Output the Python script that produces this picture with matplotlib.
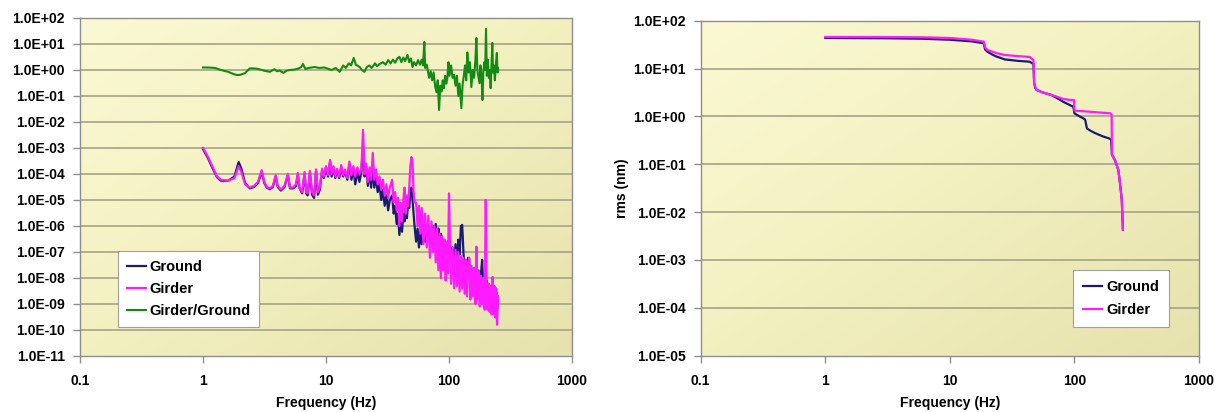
import numpy as np
import matplotlib
matplotlib.use("Agg")
import matplotlib.pyplot as plt
from matplotlib.ticker import FixedLocator, FuncFormatter
from matplotlib.colors import LinearSegmentedColormap

plt.rcParams['font.family'] = ['Liberation Sans', 'DejaVu Sans']
plt.rcParams['font.weight'] = 'bold'

# ---------------- data: left panel (PSD) ----------------
girder_f = [1.0, 1.1, 1.2, 1.3, 1.4, 1.6, 1.8, 1.95, 2.05, 2.2, 2.4, 2.6, 2.8, 3.0, 3.15, 3.3, 3.5, 3.7, 3.9, 4.05,
            4.3, 4.6, 4.9, 5.1, 5.4, 5.7, 5.9, 6.1, 6.4, 6.7, 6.9, 7.1, 7.4, 7.7, 8.0, 8.3, 8.6, 8.9, 9.3, 9.6,
            10.0, 10.4, 10.8, 11.1, 11.5, 11.9, 12.3, 12.8, 13.3, 13.8, 14.3, 14.9, 15.5, 16.1, 16.7, 17.3, 18.0,
            18.7, 19.4, 20.0, 20.6, 21.2, 21.9, 22.6, 23.3, 24.0, 24.7, 25.5, 26.3, 27.2, 28.1, 29.0, 30.0, 31.0,
            32.0, 33.0, 34.5, 35.5, 36.5, 37.5, 38.5, 39.5, 40.5, 41.5, 42.5, 43.5, 44.5, 45.5, 46.5, 47.5, 48.5,
            49.5, 50.5, 51.5, 52.5, 54, 55.5, 57, 58.5, 60, 62, 64, 66, 68, 70, 72, 74, 76, 78, 80, 82, 84, 86, 88,
            90, 92, 94, 96, 98, 100, 102, 104, 107, 110, 113, 116, 119, 122, 125, 128, 131, 134, 137, 140, 143,
            146, 149, 152, 156, 160, 164, 167, 170, 174, 178, 182, 186, 190, 195, 199, 202, 206, 210, 214, 218,
            222, 226, 230, 234, 238, 242, 246, 250]
girder_psd = [1.0e-3, 4.5e-4, 1.8e-4, 8e-5, 6e-5, 5.5e-5, 7e-5, 2.0e-4, 1.2e-4, 4e-5, 3.0e-5, 3.5e-5, 5e-5, 1.4e-4,
              5e-5, 3.2e-5, 2.8e-5, 3.5e-5, 9e-5, 3.5e-5, 2.5e-5, 3.5e-5, 1.0e-4, 3e-5, 3e-5, 4e-5, 1.1e-4, 3e-5,
              2e-5, 1.2e-4, 2e-5, 1.8e-5, 1.3e-4, 2e-5, 1.5e-5, 1.5e-4, 2e-5, 3e-5, 1.6e-4, 8e-5,
              2.0e-4, 9e-5, 3.5e-4, 1.0e-4, 2.0e-4, 8e-5, 1.6e-4, 8e-5, 2.2e-4, 9e-5, 1.5e-4, 7e-5, 3e-4, 9e-5,
              2.0e-4, 8e-5, 1.8e-4, 1.0e-4, 1.5e-4, 5.0e-3, 1.0e-4, 2.5e-4, 5e-5, 1.8e-4, 6e-5, 6.5e-4, 6e-5,
              1.5e-4, 4e-5, 8e-5, 2.5e-5, 6e-5, 1.5e-5, 4e-5, 1.2e-5, 3e-5, 6e-5, 8e-6, 2e-5, 4e-6, 1.2e-5, 1e-6,
              8e-6, 1.5e-6, 1e-5, 3e-5, 3e-6, 1.5e-5, 6e-6, 3e-5, 2e-4, 4.5e-4, 3e-4, 2e-5, 8e-6, 8e-6, 1e-6,
              6e-6, 5e-7, 5e-6, 2e-7, 3e-6, 1.5e-7, 2.5e-6, 6e-8, 1.5e-6, 1e-7, 1e-6, 4e-8, 8e-7, 2e-8, 5e-7,
              1e-8, 4e-7, 2e-8, 3e-7, 8e-9, 2.5e-7, 1.5e-8, 1.8e-5, 1.5e-7, 6e-9, 1.5e-7, 4e-9, 1.2e-7, 5e-9,
              1e-7, 3e-9, 7e-8, 4e-9, 6e-8, 2.5e-9, 5e-8, 2e-9, 4e-8, 6e-8, 1.5e-9, 3e-8, 2e-9, 2.5e-8, 1e-9,
              1.6e-7, 1.5e-9, 2e-8, 8e-10, 1.2e-8, 1e-9, 1e-8, 6e-10, 1e-5, 8e-9, 6e-10, 6e-9, 5e-10, 5e-9,
              4e-10, 1.1e-8, 4e-10, 5e-9, 3e-10, 4e-9, 1.6e-10, 2e-9]

ground_f = girder_f
ground_psd = [9e-4, 4e-4, 1.6e-4, 7.5e-5, 5.5e-5, 5.5e-5, 8e-5, 2.9e-4, 1.6e-4, 4.5e-5, 2.8e-5, 3.2e-5, 4.5e-5,
              1.2e-4, 4.5e-5, 3e-5, 2.6e-5, 3.2e-5, 8e-5, 3.2e-5, 2.3e-5, 3.2e-5, 9e-5, 2.8e-5, 2.8e-5, 3.5e-5,
              9e-5, 2.8e-5, 1.8e-5, 1e-4, 1.8e-5, 1.5e-5, 1.1e-4, 1.6e-5, 1.2e-5, 1.3e-4, 1.6e-5, 2.5e-5, 1.4e-4,
              7e-5, 1.8e-4, 8e-5, 3e-4, 8e-5, 1.8e-4, 7e-5, 1.4e-4, 7e-5, 1.8e-4, 8e-5, 1.3e-4, 6e-5, 2.5e-4,
              6e-5, 1.5e-4, 4e-5, 1.2e-4, 5e-5, 1.2e-4, 1.5e-3, 8e-5, 2e-4, 3.5e-5, 1.2e-4, 3e-5, 2e-4, 3e-5,
              8e-5, 2e-5, 4e-5, 1e-5, 2.5e-5, 6e-6, 1.5e-5, 4e-6, 1e-5, 1.5e-5, 3e-6, 6e-6, 1.2e-6, 3e-6, 4.5e-7,
              2e-6, 6e-7, 3e-6, 1.5e-6, 5e-6, 2e-6, 8e-6, 5e-6, 2e-5, 3e-5, 1e-5, 3e-6, 1e-6, 2.5e-7, 8e-7,
              1.5e-7, 6e-7, 2e-7, 8e-7, 2.5e-7, 1e-6, 3e-7, 8e-7, 2e-7, 1e-6, 3e-7, 1.2e-6, 2e-7, 8e-7, 1e-7,
              5e-7, 5e-8, 3e-7, 4e-8, 2e-7, 3e-8, 1.5e-7, 6e-8, 1.5e-7, 2e-8, 1.5e-7, 2e-8, 2e-7, 3e-8, 3e-7,
              8e-8, 1e-6, 1.1e-6, 1e-7, 2e-8, 5e-8, 1e-8, 6e-8, 5e-8, 5e-9, 2.5e-8, 4e-9, 2e-8, 3e-9, 1.5e-8,
              2e-9, 1.2e-8, 1.5e-9, 1.5e-8, 5e-8, 3e-9, 8e-9, 2e-9, 8e-9, 1.5e-9, 6e-9, 1.5e-9, 5e-9, 1e-9,
              4e-9, 1e-9, 4e-9, 8e-10, 3e-9, 6e-10, 1.5e-9]

ratio_f = [1.0, 1.1, 1.25, 1.4, 1.6, 1.8, 1.9, 2.0, 2.2, 2.4, 2.6, 2.8, 3.0, 3.2, 3.5, 3.8, 4.0, 4.2, 4.5, 4.8, 5.1,
           5.6, 6.0, 6.3, 6.5, 6.8, 7.2, 7.7, 8.1, 8.8, 9.7, 10.5, 11.1, 12.0, 12.9, 13.8, 14.5, 15.3, 16.0, 16.8,
           17.5, 18.8, 19.6, 20.5, 21.5, 22.5, 23.5, 25.0, 26.0, 27.3, 29.0, 30.5, 32.0, 33.5, 35.0, 36.5, 38.0,
           39.6, 41.0, 42.5, 44.0, 46.0, 47.5, 49.0, 50.5, 52.0, 54.0, 56.0, 58.0, 60.0, 61.5, 63.0, 64.0, 66.0,
           68.0, 69.0, 71.0, 73.0, 75.0, 77.0, 79.0, 81.0, 83.0, 85.0, 87.0, 89.0, 91.0, 93.0, 95.0, 97.0, 99.0,
           101.0, 104.0, 107.0, 110.0, 113.0, 116.0, 119.0, 122.0, 126.0, 129.0, 132.0, 135.0, 138.0, 141.0,
           144.0, 148.0, 152.0, 156.0, 160.0, 164.0, 167.0, 170.0, 174.0, 177.0, 180.0, 184.0, 187.0, 190.0,
           194.0, 197.0, 200.0, 203.0, 207.0, 211.0, 215.0, 218.0, 222.0, 225.0, 228.0, 232.0, 236.0, 240.0,
           245.0, 248.0, 250.0]
ratio = [1.25, 1.25, 1.2, 1.0, 0.85, 0.68, 0.64, 0.65, 0.76, 1.15, 1.15, 1.1, 1.0, 0.92, 0.85, 1.07, 0.9, 0.95,
         0.78, 0.95, 1.0, 1.05, 1.15, 1.3, 1.7, 1.1, 1.2, 1.25, 1.3, 1.2, 1.25, 1.1, 1.0, 1.2, 0.85, 1.5, 1.2,
         1.8, 1.5, 2.9, 1.6, 1.3, 1.0, 0.85, 1.3, 1.5, 1.2, 1.8, 1.4, 1.7, 2.0, 1.6, 2.4, 1.8, 2.5, 1.9, 2.8,
         3.2, 2.0, 3.0, 2.2, 3.8, 2.0, 2.8, 1.3, 2.0, 1.5, 2.4, 1.6, 2.5, 1.5, 12, 1.2, 1.6, 0.7, 0.5, 0.9, 0.4,
         0.8, 0.25, 0.14, 0.4, 0.029, 0.25, 0.15, 0.4, 0.2, 0.6, 0.3, 0.5, 2.0, 0.6, 1.5, 0.5, 0.65, 0.25, 0.6,
         0.1, 0.3, 0.034, 0.27, 0.6, 1.5, 0.4, 4.7, 0.8, 2.0, 0.22, 1.0, 0.5, 2.5, 17, 1.0, 0.5, 0.31, 1.5, 0.5,
         0.07, 0.8, 2.0, 1.0, 38, 0.6, 2.5, 0.5, 1.0, 0.2, 2.0, 11, 0.8, 1.5, 0.4, 1.5, 4.5, 0.8, 1.2]

# ---------------- data: right panel (integrated rms) ----------------
ground_rms_f = [1, 3, 6, 10, 15, 18.7, 19.2, 20, 22, 23.7, 27.7, 35, 43.7, 46.9, 47.5, 48.5, 49.6, 55, 65.5, 75,
                81.9, 94.6, 98, 100, 110, 118, 122, 126, 135, 146, 170, 188, 197, 200, 212, 225, 232, 240, 245]
ground_rms = [43.6, 43, 42, 40, 37, 33.8, 25, 22.5, 19.5, 17.8, 15.5, 14.5, 13.9, 12.5, 5, 3.9, 3.6, 3.2, 2.8, 2.3,
              2.0, 1.66, 1.6, 1.16, 1.0, 0.91, 0.85, 0.56, 0.5, 0.45, 0.38, 0.35, 0.33, 0.16, 0.12, 0.076, 0.041,
              0.018, 0.0043]
girder_rms_f = [1, 3, 6, 10, 15, 18.7, 19.3, 20, 22, 23.7, 27.7, 35, 43.7, 46.9, 47.5, 48.5, 49.6, 55, 65.5, 75,
                81.9, 94.6, 99, 100, 120, 150, 194, 199, 200, 212, 225, 232, 240, 245]
girder_rms = [45.7, 45.5, 45, 43.5, 40, 36.5, 27, 24.5, 22.5, 21, 19.2, 18.2, 17.5, 15, 5, 4.2, 3.6, 3.2, 2.8, 2.5,
              2.3, 2.2, 2.2, 1.32, 1.28, 1.22, 1.16, 1.1, 0.16, 0.12, 0.076, 0.041, 0.018, 0.0043]

x_ticks = [0.1, 1, 10, 100, 1000]
x_tick_labels = ["0.1", "1", "10", "100", "1000"]

# ---------------- styling ----------------
C_GROUND = "#1a1a72"
C_GIRDER = "#ff1aff"
C_RATIO = "#138a13"
GRID = "#aba98a"
SPINE = "#8e8e8e"

W, H = 1218, 412
fig = plt.figure(figsize=(W / 100, H / 100), dpi=100)

bg_cmap = LinearSegmentedColormap.from_list("bg", ["#fbf9d3", "#f3f0c0", "#e5e2ad"])


def style_axes(ax, ymin_exp, ymax_exp):
    ax.set_xscale("log")
    ax.set_yscale("log")
    ax.set_xlim(0.1, 1000)
    ax.set_ylim(10.0 ** ymin_exp, 10.0 ** ymax_exp)
    # gradient background: light at top-left, darker toward bottom-right
    yy, xx = np.mgrid[0:1:200j, 0:1:200j]
    grad = (xx + yy) / 2.0
    ax.imshow(grad, extent=(0, 1, 0, 1), transform=ax.transAxes, cmap=bg_cmap,
              aspect="auto", zorder=0, origin="upper", interpolation="bilinear")
    yt = [10.0 ** e for e in range(ymin_exp, ymax_exp + 1)]
    ax.yaxis.set_major_locator(FixedLocator(yt))
    ax.yaxis.set_minor_locator(FixedLocator([]))
    ax.yaxis.set_major_formatter(FuncFormatter(lambda v, p: "1.0E%+03d" % int(round(np.log10(v)))))
    ax.xaxis.set_major_locator(FixedLocator(x_ticks))
    ax.xaxis.set_minor_locator(FixedLocator([]))
    ax.set_xticklabels(x_tick_labels)
    for e in range(ymin_exp + 1, ymax_exp):
        ax.axhline(10.0 ** e, color=GRID, lw=1.3, zorder=1)
    for s in ax.spines.values():
        s.set_color(SPINE)
        s.set_linewidth(1.0)
        s.set_zorder(5)
    ax.tick_params(axis="both", which="major", direction="out", length=5, width=1,
                   color=SPINE, labelsize=10, pad=6)
    ax.tick_params(axis="x", pad=8)
    for lbl in ax.get_xticklabels() + ax.get_yticklabels():
        lbl.set_fontweight("bold")
    ax.set_xlabel("Frequency (Hz)", fontsize=10, fontweight="bold", labelpad=6)


# left panel
ax1 = fig.add_axes([80 / W, 1 - 356 / H, (572 - 80) / W, (356 - 18) / H])
style_axes(ax1, -11, 2)
ax1.plot(ground_f, ground_psd, color=C_GROUND, lw=1.6, label="Ground", zorder=3)
ax1.plot(girder_f, girder_psd, color=C_GIRDER, lw=1.6, label="Girder", zorder=3.5)
ax1.plot(ratio_f, ratio, color=C_RATIO, lw=1.5, label="Girder/Ground", zorder=3)
leg1 = ax1.legend(loc="lower left", bbox_to_anchor=(0.077, 0.086), borderaxespad=0,
                  fancybox=False, framealpha=1, edgecolor="#a0a0a0", handlelength=1.3,
                  handletextpad=0.25, borderpad=0.6, labelspacing=0.55,
                  prop={"weight": "bold", "size": 10.5})
leg1.get_frame().set_linewidth(0.8)
leg1.set_zorder(10)

# right panel
ax2 = fig.add_axes([700.7 / W, 1 - 355.7 / H, (1199 - 700.7) / W, (355.7 - 20.7) / H])
style_axes(ax2, -5, 2)
ax2.plot(ground_rms_f, ground_rms, color=C_GROUND, lw=1.6, label="Ground", zorder=3)
ax2.plot(girder_rms_f, girder_rms, color=C_GIRDER, lw=1.6, label="Girder", zorder=3.5)
ax2.set_ylabel("rms (nm)", fontsize=10, fontweight="bold", labelpad=3)
leg2 = ax2.legend(loc="lower right", bbox_to_anchor=(0.94, 0.086), borderaxespad=0,
                  fancybox=False, framealpha=1, edgecolor="#a0a0a0", handlelength=1.3,
                  handletextpad=0.25, borderpad=0.7, labelspacing=0.6,
                  prop={"weight": "bold", "size": 10.5})
leg2.get_frame().set_linewidth(0.8)
leg2.set_zorder(10)

fig.savefig("out.png", dpi=100)
